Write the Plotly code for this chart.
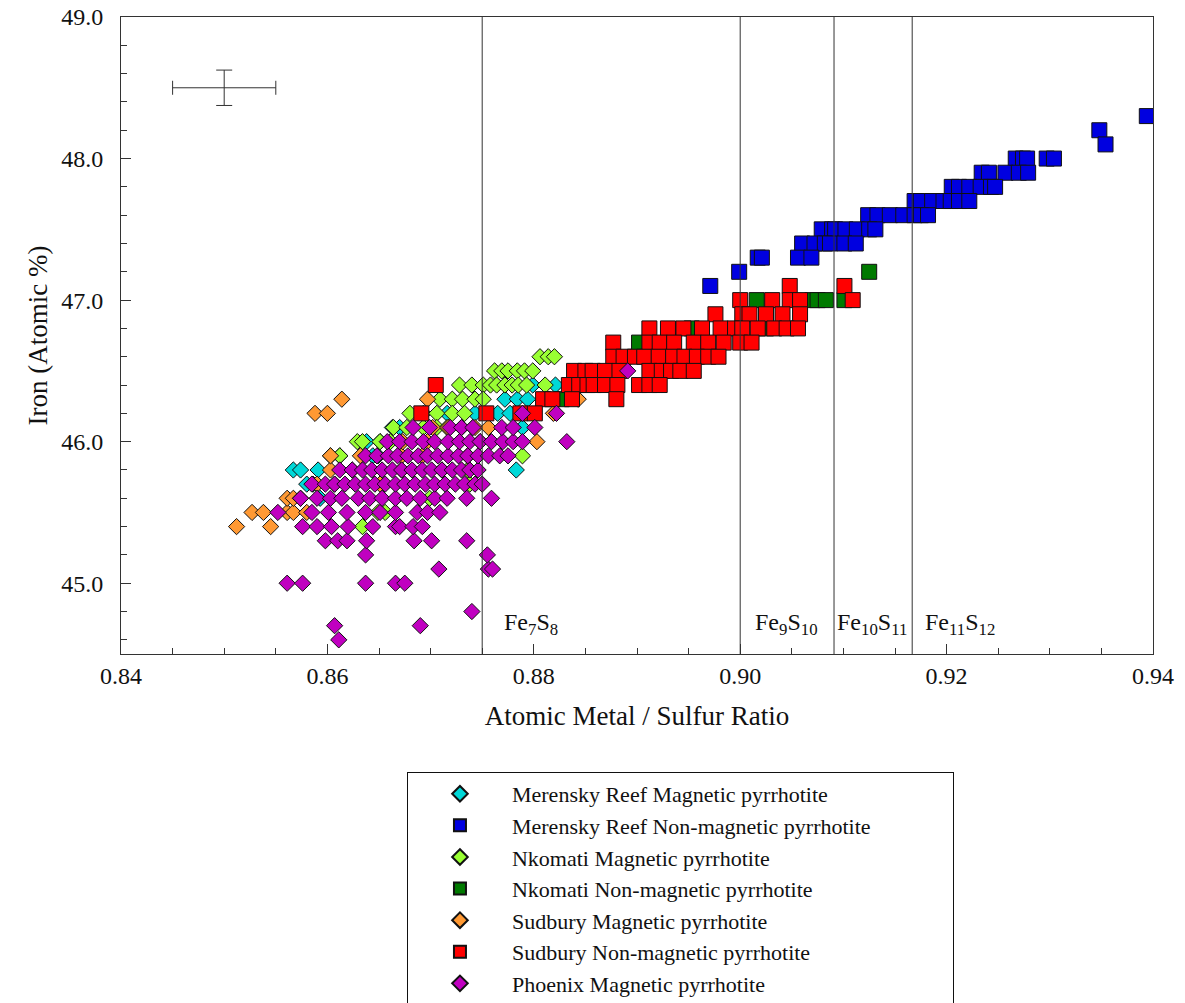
import plotly.graph_objects as go

# ---------------- data ----------------
# Merensky Reef Magnetic pyrrhotite (diamonds)
mr_mag_x = [0.8567, 0.8574, 0.8591, 0.8783,
            0.8580, 0.8586,
            0.8593,
            0.8612, 0.8644, 0.8649,
            0.8638, 0.8651,
            0.8663, 0.8670, 0.8741, 0.8789,
            0.8716, 0.8743, 0.8765, 0.8777,
            0.8772, 0.8784, 0.8794,
            0.8799, 0.8821]
mr_mag_y = [45.8, 45.8, 45.8, 45.8,
            45.7, 45.7,
            45.6,
            45.9, 45.9, 45.9,
            46.0, 46.0,
            46.1, 46.1, 46.1, 46.1,
            46.2, 46.2, 46.2, 46.2,
            46.3, 46.3, 46.3,
            46.4, 46.4]

# Merensky Reef Non-magnetic pyrrhotite (squares)
mr_non_x = [0.9394,
            0.9348,
            0.9354,
            0.9267, 0.9274, 0.9278, 0.9297, 0.9304,
            0.9234, 0.9241, 0.9257, 0.9270, 0.9279,
            0.9205, 0.9212, 0.9222, 0.9233, 0.9243, 0.9247,
            0.9169, 0.9175, 0.9186, 0.9197, 0.9204, 0.9212, 0.9222,
            0.9124, 0.9133, 0.9145, 0.9158, 0.9169, 0.9175, 0.9182,
            0.9079, 0.9089, 0.9092, 0.9102, 0.9113, 0.9125, 0.9131,
            0.9060, 0.9072, 0.9082, 0.9087, 0.9101, 0.9112,
            0.9017, 0.9021, 0.9056, 0.9069,
            0.8999,
            0.8971]
mr_non_y = [48.3,
            48.2,
            48.1,
            48.0, 48.0, 48.0, 48.0, 48.0,
            47.9, 47.9, 47.9, 47.9, 47.9,
            47.8, 47.8, 47.8, 47.8, 47.8, 47.8,
            47.7, 47.7, 47.7, 47.7, 47.7, 47.7, 47.7,
            47.6, 47.6, 47.6, 47.6, 47.6, 47.6, 47.6,
            47.5, 47.5, 47.5, 47.5, 47.5, 47.5, 47.5,
            47.4, 47.4, 47.4, 47.4, 47.4, 47.4,
            47.3, 47.3, 47.3, 47.3,
            47.2,
            47.1]

# Nkomati Magnetic pyrrhotite (diamonds)
nk_mag_x = [0.8806, 0.8814, 0.8820,
            0.8762, 0.8769, 0.8775, 0.8784, 0.8791, 0.8799,
            0.8728, 0.8740, 0.8751, 0.8758, 0.8764, 0.8772, 0.8779, 0.8785, 0.8793, 0.8811,
            0.8709, 0.8721, 0.8731, 0.8743, 0.8751,
            0.8680, 0.8693, 0.8706, 0.8721, 0.8733,
            0.8664, 0.8677, 0.8693, 0.8706, 0.8716,
            0.8629, 0.8634, 0.8651, 0.8661,
            0.8603, 0.8612, 0.8789,
            0.8736,
            0.8738,
            0.8699,
            0.8649, 0.8656,
            0.8634]
nk_mag_y = [46.6, 46.6, 46.6,
            46.5, 46.5, 46.5, 46.5, 46.5, 46.5,
            46.4, 46.4, 46.4, 46.4, 46.4, 46.4, 46.4, 46.4, 46.4, 46.4,
            46.3, 46.3, 46.3, 46.3, 46.3,
            46.2, 46.2, 46.2, 46.2, 46.2,
            46.1, 46.1, 46.1, 46.1, 46.1,
            46.0, 46.0, 46.0, 46.0,
            45.9, 45.9, 45.9,
            45.8,
            45.7,
            45.6,
            45.5, 45.5,
            45.4]

# Nkomati Non-magnetic pyrrhotite (squares)
nk_non_x = [0.9125,
            0.9016, 0.9070, 0.9075, 0.9083, 0.9101,
            0.8953, 0.9025,
            0.8902,
            0.8827]
nk_non_y = [47.2,
            47.0, 47.0, 47.0, 47.0, 47.0,
            46.8, 46.8,
            46.7,
            46.3]

# Sudbury Magnetic pyrrhotite (diamonds)
sd_mag_x = [0.8512, 0.8545,
            0.8527, 0.8538, 0.8561, 0.8567, 0.8580,
            0.8561, 0.8567, 0.8574,
            0.8590, 0.8607, 0.8651,
            0.8603, 0.8624, 0.8672, 0.8711,
            0.8603, 0.8632, 0.8672, 0.8692, 0.8736,
            0.8673, 0.8697, 0.8748, 0.8803,
            0.8702, 0.8717, 0.8730, 0.8743, 0.8756,
            0.8588, 0.8600, 0.8819,
            0.8614, 0.8697, 0.8843]
sd_mag_y = [45.4, 45.4,
            45.5, 45.5, 45.5, 45.5, 45.5,
            45.6, 45.6, 45.6,
            45.7, 45.7, 45.7,
            45.8, 45.8, 45.8, 45.8,
            45.9, 45.9, 45.9, 45.9, 45.9,
            46.0, 46.0, 46.0, 46.0,
            46.1, 46.1, 46.1, 46.1, 46.1,
            46.2, 46.2, 46.2,
            46.3, 46.3, 46.3]

# Sudbury Non-magnetic pyrrhotite (squares)
sd_non_x = [0.9048, 0.9101,
            0.9000, 0.9031, 0.9048, 0.9058, 0.9109,
            0.8976, 0.9002, 0.9009, 0.9025, 0.9041, 0.9058,
            0.8912, 0.8930, 0.8945, 0.8963, 0.8981, 0.8995, 0.9002, 0.9017, 0.9033, 0.9045, 0.9056,
            0.8877, 0.8912, 0.8922, 0.8936, 0.8955, 0.8969, 0.8984, 0.9000, 0.9011,
            0.8877, 0.8887, 0.8898, 0.8907, 0.8921, 0.8935, 0.8946, 0.8958, 0.8969, 0.8979,
            0.8839, 0.8850, 0.8857, 0.8869, 0.8883, 0.8912, 0.8924, 0.8933, 0.8942, 0.8955,
            0.8705, 0.8834, 0.8844, 0.8852, 0.8858, 0.8869, 0.8881, 0.8902, 0.8912, 0.8922,
            0.8809, 0.8818, 0.8837, 0.8880,
            0.8691, 0.8754, 0.8787, 0.8801]
sd_non_y = [47.1, 47.1,
            47.0, 47.0, 47.0, 47.0, 47.0,
            46.9, 46.9, 46.9, 46.9, 46.9, 46.9,
            46.8, 46.8, 46.8, 46.8, 46.8, 46.8, 46.8, 46.8, 46.8, 46.8, 46.8,
            46.7, 46.7, 46.7, 46.7, 46.7, 46.7, 46.7, 46.7, 46.7,
            46.6, 46.6, 46.6, 46.6, 46.6, 46.6, 46.6, 46.6, 46.6, 46.6,
            46.5, 46.5, 46.5, 46.5, 46.5, 46.5, 46.5, 46.5, 46.5, 46.5,
            46.4, 46.4, 46.4, 46.4, 46.4, 46.4, 46.4, 46.4, 46.4, 46.4,
            46.3, 46.3, 46.3, 46.3,
            46.2, 46.2, 46.2, 46.2]

# Phoenix Magnetic pyrrhotite (diamonds)
px_mag_x = [0.8611,
            0.8607, 0.8690,
            0.8740,
            0.8561, 0.8576, 0.8637, 0.8666, 0.8675,
            0.8708, 0.8756, 0.8760,
            0.8637, 0.8755,
            0.8598, 0.8610, 0.8619, 0.8638, 0.8684, 0.8701, 0.8735,
            0.8576, 0.8590, 0.8604, 0.8620, 0.8644, 0.8666, 0.8670, 0.8683, 0.8692,
            0.8552, 0.8585, 0.8601, 0.8619, 0.8637, 0.8651, 0.8666, 0.8687, 0.8697, 0.8709,
            0.8574, 0.8590, 0.8603, 0.8614, 0.8630, 0.8641, 0.8653, 0.8666, 0.8677, 0.8690,
            0.8704, 0.8716, 0.8735, 0.8759,
            0.8585, 0.8598, 0.8607, 0.8617, 0.8627, 0.8637, 0.8646, 0.8656, 0.8666, 0.8675,
            0.8685, 0.8695, 0.8704, 0.8714, 0.8724, 0.8733, 0.8743, 0.8750,
            0.8612, 0.8624, 0.8634, 0.8643, 0.8653, 0.8663, 0.8672, 0.8682, 0.8692, 0.8701,
            0.8711, 0.8721, 0.8730, 0.8738, 0.8746,
            0.8637, 0.8648, 0.8659, 0.8668, 0.8678, 0.8688, 0.8697, 0.8707, 0.8717, 0.8727,
            0.8736, 0.8746, 0.8756, 0.8767, 0.8775,
            0.8658, 0.8670, 0.8682, 0.8693, 0.8704, 0.8717, 0.8728, 0.8738, 0.8748, 0.8759,
            0.8770, 0.8780, 0.8789, 0.8832,
            0.8683, 0.8699, 0.8719, 0.8730, 0.8741, 0.8769, 0.8780, 0.8801,
            0.8789, 0.8822,
            0.8891]
px_mag_y = [44.6,
            44.7, 44.7,
            44.8,
            45.0, 45.0, 45.0, 45.0, 45.0,
            45.1, 45.1, 45.1,
            45.2, 45.2,
            45.3, 45.3, 45.3, 45.3, 45.3, 45.3, 45.3,
            45.4, 45.4, 45.4, 45.4, 45.4, 45.4, 45.4, 45.4, 45.4,
            45.5, 45.5, 45.5, 45.5, 45.5, 45.5, 45.5, 45.5, 45.5, 45.5,
            45.6, 45.6, 45.6, 45.6, 45.6, 45.6, 45.6, 45.6, 45.6, 45.6,
            45.6, 45.6, 45.6, 45.6,
            45.7, 45.7, 45.7, 45.7, 45.7, 45.7, 45.7, 45.7, 45.7, 45.7,
            45.7, 45.7, 45.7, 45.7, 45.7, 45.7, 45.7, 45.7,
            45.8, 45.8, 45.8, 45.8, 45.8, 45.8, 45.8, 45.8, 45.8, 45.8,
            45.8, 45.8, 45.8, 45.8, 45.8,
            45.9, 45.9, 45.9, 45.9, 45.9, 45.9, 45.9, 45.9, 45.9, 45.9,
            45.9, 45.9, 45.9, 45.9, 45.9,
            46.0, 46.0, 46.0, 46.0, 46.0, 46.0, 46.0, 46.0, 46.0, 46.0,
            46.0, 46.0, 46.0, 46.0,
            46.1, 46.1, 46.1, 46.1, 46.1, 46.1, 46.1, 46.1,
            46.2, 46.2,
            46.5]

# Representative uncertainty cross
err_x = [0.850]
err_y = [48.5]
err_dx = [0.005]
err_dy = [0.125]

# Stoichiometric compositions (vertical reference lines)
phase_ratio = [7 / 8, 9 / 10, 10 / 11, 11 / 12]
phase_label = ["Fe<sub>7</sub>S<sub>8</sub>", "Fe<sub>9</sub>S<sub>10</sub>",
               "Fe<sub>10</sub>S<sub>11</sub>", "Fe<sub>11</sub>S<sub>12</sub>"]
phase_label_x = [0.8769, 0.9012, 0.9092, 0.9177]
phase_label_y = 44.71

series_names = ["Merensky Reef Magnetic pyrrhotite",
                "Merensky Reef Non-magnetic pyrrhotite",
                "Nkomati Magnetic pyrrhotite",
                "Nkomati Non-magnetic pyrrhotite",
                "Sudbury Magnetic pyrrhotite",
                "Sudbury Non-magnetic pyrrhotite",
                "Phoenix Magnetic pyrrhotite"]

series = [
    (mr_mag_x, mr_mag_y, "diamond", "#00D8D8"),
    (mr_non_x, mr_non_y, "square", "#0000E0"),
    (nk_mag_x, nk_mag_y, "diamond", "#99FF33"),
    (nk_non_x, nk_non_y, "square", "#007A00"),
    (sd_mag_x, sd_mag_y, "diamond", "#FF9933"),
    (sd_non_x, sd_non_y, "square", "#FF0000"),
    (px_mag_x, px_mag_y, "diamond", "#C000C0"),
]

FONT = "Liberation Serif, Times New Roman, serif"
fig = go.Figure()

for i, (xs, ys, sym, col) in enumerate(series):
    label = series_names[i]
    if i == 1:
        # invisible trailing padding so the legend box reaches the reference width
        label = label + "\u00a0" * 14
    fig.add_trace(go.Scatter(
        x=xs, y=ys, mode="markers", name=label,
        marker=dict(symbol=sym, size=15 if sym == "square" else 12.5, color=col,
                    line=dict(color="#111111", width=1)),
    ))

fig.add_trace(go.Scatter(
    x=err_x, y=err_y, mode="markers", showlegend=False, hoverinfo="skip",
    marker=dict(size=1, color="rgba(0,0,0,0)"),
    error_x=dict(type="data", array=err_dx, color="#333333", thickness=1, width=7),
    error_y=dict(type="data", array=err_dy, color="#333333", thickness=1, width=8),
))

for xv in phase_ratio:
    fig.add_shape(type="line", xref="x", yref="paper", x0=xv, x1=xv, y0=0, y1=1,
                  line=dict(color="#333333", width=1), layer="above")

for lx, lt in zip(phase_label_x, phase_label):
    fig.add_annotation(x=lx, y=phase_label_y, text=lt, showarrow=False,
                       xanchor="left", yanchor="middle", font=dict(family=FONT, size=24, color="#111"))

axis_common = dict(
    showgrid=False, zeroline=False, showline=True, linecolor="#333333", linewidth=1,
    mirror=True, ticks="inside", ticklen=10, tickwidth=1, tickcolor="#333333",
    tickfont=dict(family=FONT, size=24, color="#111"),
)

fig.update_xaxes(
    range=[0.84, 0.94], tick0=0.84, dtick=0.02, tickformat=".2f",
    minor=dict(dtick=0.005, ticks="inside", ticklen=6, tickcolor="#333333", showgrid=False),
    title=dict(text="Atomic Metal / Sulfur Ratio", font=dict(family=FONT, size=27, color="#111"), standoff=18),
    ticklabelstandoff=0,
    **axis_common,
)
fig.update_yaxes(
    range=[44.5, 49.0], tick0=45, dtick=1, tickformat=".1f",
    minor=dict(dtick=0.2, ticks="inside", ticklen=6, tickcolor="#333333", showgrid=False),
    title=dict(text="Iron (Atomic %)", font=dict(family=FONT, size=27, color="#111"), standoff=5),
    ticklabelstandoff=12,
    **axis_common,
)

fig.update_layout(
    width=1185, height=1003,
    margin=dict(l=121, r=32, t=17, b=349, autoexpand=False),
    paper_bgcolor="white", plot_bgcolor="white",
    font=dict(family=FONT, size=22, color="#111"),
    showlegend=True,
    legend=dict(x=0.2771, y=-0.1852, xanchor="left", yanchor="top",
                bgcolor="white", bordercolor="#111", borderwidth=1,
                font=dict(family=FONT, size=22, color="#111"),
                tracegroupgap=0, itemsizing="constant", itemwidth=94),
)

fig.write_html("out.html")
